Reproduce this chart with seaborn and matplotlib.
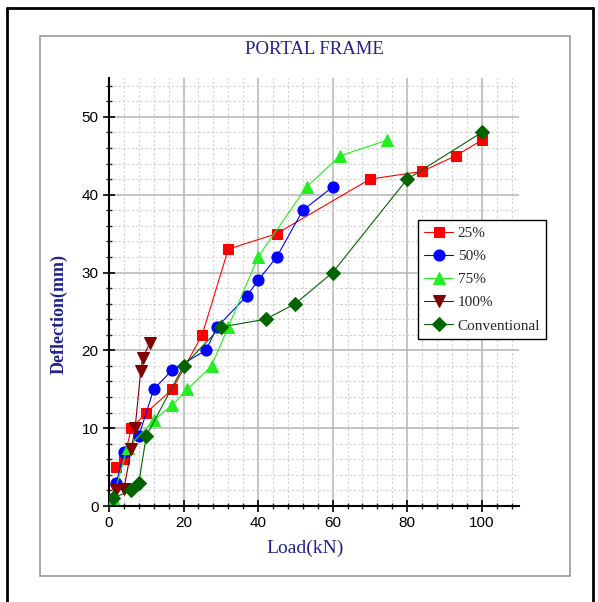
import numpy as np
import pandas as pd
import seaborn as sns
import matplotlib.pyplot as plt
from matplotlib.patches import Rectangle
from matplotlib.lines import Line2D
from matplotlib.ticker import MultipleLocator

# data
load_25 = [2, 4, 6, 10, 17, 25, 32, 45, 70, 84, 93, 100]
defl_25 = [5, 6, 10, 12, 15, 22, 33, 35, 42, 43, 45, 47]

load_50 = [2, 4, 8, 12, 17, 26, 29, 37, 40, 45, 52, 60]
defl_50 = [3, 7, 9, 15, 17.5, 20, 23, 27, 29, 32, 38, 41]

load_75 = [1, 5, 12, 17, 21, 27.5, 32, 40, 53, 62, 74.5]
defl_75 = [1, 7.5, 11, 13, 15, 18, 23, 32, 41, 45, 47]

load_100 = [2, 4, 6, 7, 8.5, 9, 11]
defl_100 = [2, 2.2, 7.3, 10, 17.3, 19, 21]

load_conv = [1, 6, 8, 10, 20, 30, 42, 50, 60, 80, 100]
defl_conv = [1, 2, 3, 9, 18, 23, 24, 26, 30, 42, 48]

series = [
    ("25%", load_25, defl_25, "#ff0000", "s", 7),
    ("50%", load_50, defl_50, "#0000ff", "o", 8),
    ("75%", load_75, defl_75, "#22ee22", "^", 8.5),
    ("100%", load_100, defl_100, "#800000", "v", 8.5),
    ("Conventional", load_conv, defl_conv, "#006400", "D", 7),
]

sns.set_style("white")
plt.rcParams["font.family"] = ["Liberation Sans", "DejaVu Sans"]

fig = plt.figure(figsize=(5.98, 6.02), dpi=100)
ax = fig.add_axes([109 / 598, 96 / 602, 410 / 598, 428 / 602])

for name, x, y, col, mk, ms in series:
    df = pd.DataFrame({"Load": x, "Deflection": y})
    sns.lineplot(data=df, x="Load", y="Deflection", ax=ax, sort=False,
                 color=col, lw=0.8, marker=mk, markersize=ms,
                 markeredgecolor=col, markerfacecolor=col, label=name,
                 zorder=3)

ax.set_xlim(0, 110)
ax.set_ylim(0, 55)
ax.xaxis.set_major_locator(MultipleLocator(20))
ax.xaxis.set_minor_locator(MultipleLocator(4))
ax.yaxis.set_major_locator(MultipleLocator(10))
ax.yaxis.set_minor_locator(MultipleLocator(2))
ax.set_xticks([0, 20, 40, 60, 80, 100])

ax.grid(which="major", color="#b4b4b4", lw=1.1, ls="-")
ax.grid(which="minor", color="#d0d0d0", lw=0.8, ls=(0, (2, 2)))
ax.set_axisbelow(True)

for s in ["top", "right"]:
    ax.spines[s].set_visible(False)
for s in ["left", "bottom"]:
    ax.spines[s].set_color("black")
    ax.spines[s].set_linewidth(1.5)

ax.tick_params(which="major", direction="inout", length=8, width=1.2,
               labelsize=11, colors="black", left=True, bottom=True)
ax.tick_params(which="minor", direction="inout", length=5, width=1,
               left=True, bottom=True)

navy = "#22228a"
ax.set_xlabel("Load(kN)", family="Liberation Serif", fontsize=14,
              color=navy)
ax.set_ylabel("Deflection(mm)", family="Liberation Serif", fontsize=13,
              fontweight="bold", color=navy)
ax.xaxis.set_label_coords(0.478, -0.078)
ax.yaxis.set_label_coords(-0.102, 0.449)
fig.text(314 / 598, 1 - 50 / 602, "PORTAL FRAME", family="Liberation Serif",
         fontsize=13.5, color=navy, ha="center", va="center")

leg = ax.legend(loc="upper left", bbox_to_anchor=(0.754, 0.668),
                prop={"family": "Liberation Serif", "size": 11},
                frameon=True, fancybox=False, edgecolor="black",
                framealpha=1, handlelength=1.9, labelspacing=0.62,
                borderpad=0.4, handletextpad=0.3, borderaxespad=0)
leg.get_frame().set_linewidth(1)

# panel frames
fig.patches.append(Rectangle((40 / 598, 1 - 576 / 602), 530 / 598, 540 / 602,
                             transform=fig.transFigure, fill=False,
                             edgecolor="#999999", lw=1.2))
for xs, ys in [((7, 7), (8, 602)), ((7, 593), (8, 8)), ((593, 593), (8, 602))]:
    fig.lines.append(Line2D([v / 598 for v in xs], [1 - v / 602 for v in ys],
                            transform=fig.transFigure, color="black", lw=2))

fig.savefig("out.png", dpi=100)
